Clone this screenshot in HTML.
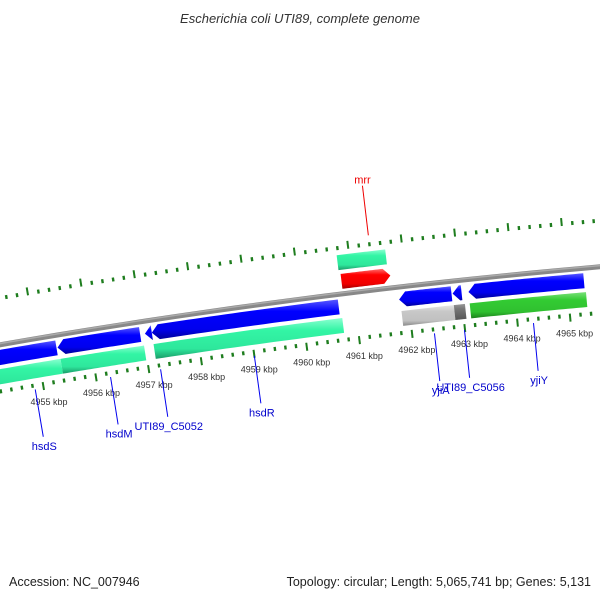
<!DOCTYPE html>
<html><head><meta charset="utf-8">
<style>
html,body{margin:0;padding:0;background:#fff;}
svg{display:block;}
text{font-family:"Liberation Sans","DejaVu Sans",sans-serif;}
</style></head>
<body>
<svg id="map" width="600" height="600" viewBox="0 0 600 600" xmlns="http://www.w3.org/2000/svg">
<defs>
<linearGradient id="gBlue" x1="0" y1="0" x2="0" y2="1"><stop offset="0" stop-color="#5a5aff"/><stop offset="0.3" stop-color="#0000ff"/><stop offset="0.75" stop-color="#0000ee"/><stop offset="1" stop-color="#00009a"/></linearGradient>
<linearGradient id="gTeal" x1="0" y1="0" x2="0" y2="1"><stop offset="0" stop-color="#8affd0"/><stop offset="0.3" stop-color="#33f5a5"/><stop offset="0.75" stop-color="#2ee79c"/><stop offset="1" stop-color="#1a9a68"/></linearGradient>
<linearGradient id="gGreen" x1="0" y1="0" x2="0" y2="1"><stop offset="0" stop-color="#7ae07a"/><stop offset="0.3" stop-color="#33cc33"/><stop offset="0.75" stop-color="#30c030"/><stop offset="1" stop-color="#1d801d"/></linearGradient>
<linearGradient id="gGrey" x1="0" y1="0" x2="0" y2="1"><stop offset="0" stop-color="#e6e6e6"/><stop offset="0.3" stop-color="#c8c8c8"/><stop offset="0.75" stop-color="#c0c0c0"/><stop offset="1" stop-color="#8a8a8a"/></linearGradient>
<linearGradient id="gDark" x1="0" y1="0" x2="0" y2="1"><stop offset="0" stop-color="#999"/><stop offset="0.3" stop-color="#777"/><stop offset="1" stop-color="#555"/></linearGradient>
<linearGradient id="gRed" x1="0" y1="0" x2="0" y2="1"><stop offset="0" stop-color="#ff7070"/><stop offset="0.3" stop-color="#ff0000"/><stop offset="0.75" stop-color="#f00000"/><stop offset="1" stop-color="#a00000"/></linearGradient>
</defs>
<text x="300" y="23" text-anchor="middle" font-size="13" font-style="italic" fill="#333">Escherichia coli UTI89, complete genome</text>
<g id="layer"></g>
<text x="9" y="586" font-size="12.5" fill="#222">Accession: NC_007946</text>
<text x="591" y="586" text-anchor="end" font-size="12.5" fill="#222">Topology: circular; Length: 5,065,741 bp; Genes: 5,131</text>
</svg>
<script>
// ---- data (kbp positions) ----
var innerNames = ["hsdS","hsdM","UTI89_C5052","hsdR","yjiA","UTI89_C5056","yjiY"];
var innerStart = [4953.5, 4955.38, 4957.03, 4957.16, 4961.83, 4962.84, 4963.14];
var innerEnd   = [4955.36, 4956.94, 4957.16, 4960.69, 4962.82, 4963.01, 4965.32];
var catStart = [4953.5, 4955.40, 4957.16, 4961.85, 4962.84, 4963.14];
var catEnd   = [4955.40, 4956.98, 4960.73, 4962.84, 4963.05, 4965.34];
var catFill  = ["gTeal","gTeal","gTeal","gGrey","gDark","gGreen"];
var outerStart = [4960.80];
var outerEnd   = [4961.72];
var outerCatStart = [4960.77];
var outerCatEnd   = [4961.68];
var tickLabels = [4955,4956,4957,4958,4959,4960,4961,4962,4963,4964,4965];
var geneLabelNames = ["hsdS","hsdM","UTI89_C5052","hsdR","yjiA","UTI89_C5056","yjiY"];
var geneLabelPos   = [4954.84, 4956.27, 4957.22, 4959.0, 4962.42, 4962.99, 4964.3];
var mrrLabelPos = 4961.4;

// ---- geometry ----
var CX = 1206.6, CY = 7280.6, R0 = 7040;
var NS = "http://www.w3.org/2000/svg";
var layer = document.getElementById("layer");
function theta(k){ return Math.asin((43 + 52.7*(k-4955) - CX)/(R0-46)); }
function pt(k, off){ var t=theta(k), r=R0+off; return [CX + r*Math.sin(t), CY - r*Math.cos(t)]; }
function f(p){ return p[0].toFixed(2)+","+p[1].toFixed(2); }
function arcPts(k1,k2,off){ var a=[],n=24; for(var i=0;i<=n;i++){a.push(pt(k1+(k2-k1)*i/n,off));} return a; }
function mk(tag){ return document.createElementNS(NS, tag); }
var HEAD = 0.13;
// shape: dir -1 = tip at start, 1 = tip at end, 0 = none
function shape(k1,k2,o1,o2,dir){
  var mid=(o1+o2)/2, pts=[], h=Math.min(HEAD, k2-k1);
  var a1=k1, a2=k2;
  if(dir<0) a1=k1+h; if(dir>0) a2=k2-h;
  if(dir<0) pts.push(pt(k1,mid));
  pts=pts.concat(arcPts(a1,a2,o2));
  if(dir>0) pts.push(pt(k2,mid));
  pts=pts.concat(arcPts(a1,a2,o1).reverse());
  return "M"+pts.map(f).join("L")+"Z";
}
function drawFeature(name,k1,k2,o1,o2,dir,fill){
  var p=mk("path");
  p.setAttribute("d", shape(k1,k2,o1,o2,dir));
  p.setAttribute("fill","url(#"+fill+")");
  
  
  layer.appendChild(p);
}

// backbone
var bb = mk("path");
bb.setAttribute("d","M"+arcPts(4953.2,4966.5,0).map(f).join("L"));
bb.setAttribute("stroke","#888"); bb.setAttribute("stroke-width","5"); bb.setAttribute("fill","none");


layer.appendChild(bb);
var bb2 = mk("path");
bb2.setAttribute("d","M"+arcPts(4953.2,4966.5,1.2).map(f).join("L"));
bb2.setAttribute("stroke","#aaa"); bb2.setAttribute("stroke-width","1.5"); bb2.setAttribute("fill","none");


layer.appendChild(bb2);

// ticks
for(var i=0;i<=70;i++){
  var k=4953+i*0.2, major=(i%5===0);
  var tIn=mk("line"), a=pt(k,-44), b=pt(k, major?-52:-48);
  tIn.setAttribute("x1",a[0]);tIn.setAttribute("y1",a[1]);tIn.setAttribute("x2",b[0]);tIn.setAttribute("y2",b[1]);
  tIn.setAttribute("stroke","#1e7d1e");tIn.setAttribute("stroke-width",major?"2":"2.4");
  
  
  layer.appendChild(tIn);
  var tOut=mk("line"), c=pt(k,44), d=pt(k, major?52:48);
  tOut.setAttribute("x1",c[0]);tOut.setAttribute("y1",c[1]);tOut.setAttribute("x2",d[0]);tOut.setAttribute("y2",d[1]);
  tOut.setAttribute("stroke","#1e7d1e");tOut.setAttribute("stroke-width",major?"2":"2.4");
  
  
  layer.appendChild(tOut);
}
tickLabels.forEach(function(k){
  var p=pt(k,-64), t=mk("text");
  t.setAttribute("x",p[0]+3);t.setAttribute("y",p[1]+3);t.setAttribute("text-anchor","middle");
  t.setAttribute("font-size","9");t.setAttribute("fill","#333");
  
  
  t.textContent=k+" kbp";
  layer.appendChild(t);
});

// features
for(var i=0;i<innerStart.length;i++) drawFeature("gene-"+innerNames[i], innerStart[i], innerEnd[i], -20, -5, -1, "gBlue");
for(var i=0;i<catStart.length;i++) drawFeature("cog-"+i, catStart[i], catEnd[i], -39, -24, 0, catFill[i]);
for(var i=0;i<outerStart.length;i++) drawFeature("gene-mrr", outerStart[i], outerEnd[i], 5, 20, 1, "gRed");
for(var i=0;i<outerCatStart.length;i++) drawFeature("cog-mrr", outerCatStart[i], outerCatEnd[i], 24, 39, 0, "gTeal");

// gene labels
for(var i=0;i<geneLabelNames.length;i++){
  var a=pt(geneLabelPos[i],-50), b=pt(geneLabelPos[i],-98);
  var l=mk("line");
  l.setAttribute("x1",a[0]);l.setAttribute("y1",a[1]);l.setAttribute("x2",b[0]);l.setAttribute("y2",b[1]);
  l.setAttribute("stroke","#0000ee");l.setAttribute("stroke-width","1");
  
  
  layer.appendChild(l);
  var t=mk("text");
  t.setAttribute("x",b[0]+1);t.setAttribute("y",b[1]+13);t.setAttribute("text-anchor","middle");
  t.setAttribute("font-size","11");t.setAttribute("fill","#0000cc");
  
  
  t.textContent=geneLabelNames[i];
  layer.appendChild(t);
}
(function(){
  var a=pt(mrrLabelPos,55), b=pt(mrrLabelPos,105);
  var l=mk("line");
  l.setAttribute("x1",a[0]);l.setAttribute("y1",a[1]);l.setAttribute("x2",b[0]);l.setAttribute("y2",b[1]);
  l.setAttribute("stroke","#ee0000");l.setAttribute("stroke-width","1");
  
  
  layer.appendChild(l);
  var t=mk("text");
  t.setAttribute("x",b[0]);t.setAttribute("y",b[1]-2);t.setAttribute("text-anchor","middle");
  t.setAttribute("font-size","11");t.setAttribute("fill","#ee0000");
  
  
  t.textContent="mrr";
  layer.appendChild(t);
})();
</script>
</body></html>
